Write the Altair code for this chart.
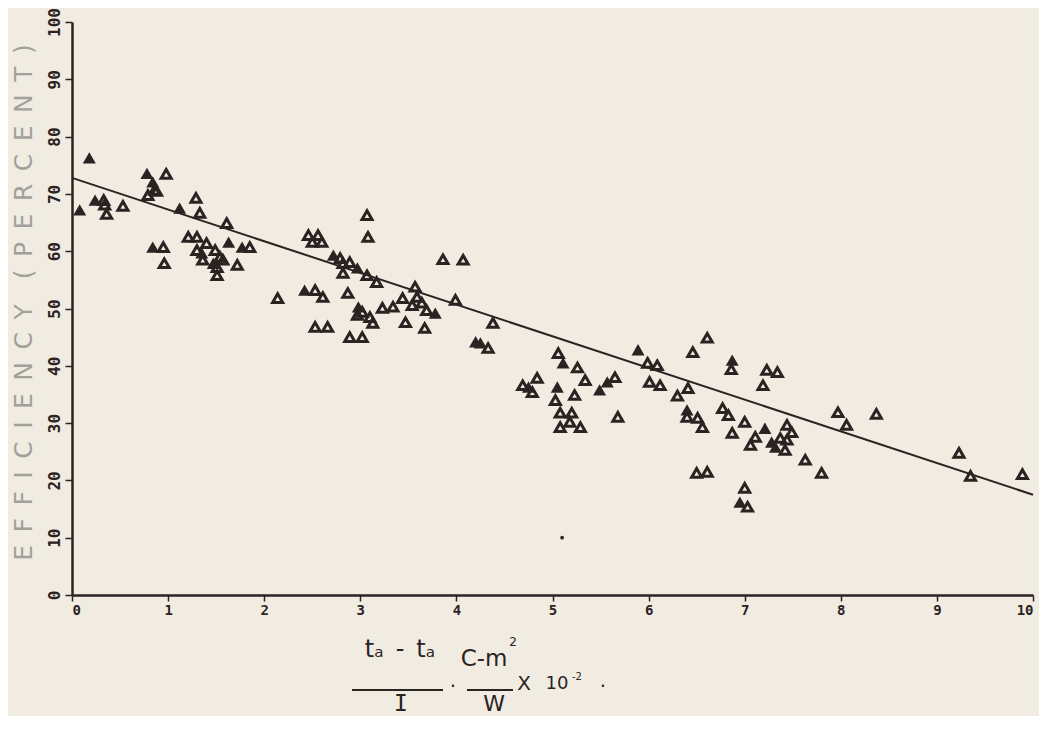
import altair as alt
import pandas as pd

# ---- data ----
open_x = [0.33, 0.34, 0.36, 0.53, 0.98, 0.86, 0.79, 0.88, 1.29, 1.33, 1.61, 1.85, 1.21, 1.30,
          0.95, 0.96, 1.40, 1.49, 1.36, 1.54, 1.57, 1.51, 1.51, 1.72, 1.30,
          3.07, 3.08, 2.46, 2.56, 2.50, 2.60, 2.79, 2.82, 2.89, 2.82, 3.07, 3.17, 2.14,
          2.53, 2.61, 2.87, 3.02, 3.10, 3.13, 2.97, 2.53, 2.66, 2.89, 3.02, 3.23, 3.34,
          3.44, 3.57, 3.59, 3.64, 3.54, 3.69, 3.47, 3.67, 3.86, 4.07, 3.99, 4.38, 4.33,
          5.06, 5.26, 5.34, 5.65, 5.68, 5.99, 6.09, 6.01, 6.12, 6.30, 4.84, 4.79, 4.69,
          5.03, 5.23, 5.08, 5.20, 5.08, 5.18, 5.29, 6.61, 6.46, 6.86, 7.23, 7.34, 7.19,
          6.41, 6.40, 6.51, 6.56, 6.77, 6.83, 6.87, 7.00, 7.11, 7.06, 7.44, 7.49, 7.37,
          7.44, 7.42, 7.63, 7.80, 7.97, 8.06, 8.37, 6.50, 6.61, 7.00, 7.03, 9.23, 9.35, 9.89]
open_y = [68.9, 68.1, 66.5, 67.9, 73.5, 70.7, 69.8, 70.5, 69.3, 66.7, 64.9, 60.7, 62.5, 62.5,
          60.7, 57.9, 61.4, 60.2, 58.5, 59.0, 58.5, 57.2, 55.8, 57.6, 60.2,
          66.3, 62.5, 62.8, 62.8, 61.6, 61.6, 58.8, 57.9, 58.1, 56.2, 55.8, 54.6, 51.8,
          53.2, 52.0, 52.7, 49.4, 48.5, 47.5, 48.9, 46.8, 46.8, 45.0, 45.0, 50.1, 50.3,
          51.8, 53.8, 52.0, 51.0, 50.6, 49.7, 47.6, 46.6, 58.6, 58.5, 51.5, 47.5, 43.1,
          42.2, 39.7, 37.5, 38.0, 31.1, 40.5, 40.1, 37.2, 36.6, 34.8, 37.9, 35.4, 36.6,
          34.0, 34.9, 31.8, 31.8, 29.3, 30.2, 29.3, 44.9, 42.4, 39.4, 39.3, 38.9, 36.6,
          36.1, 31.1, 30.9, 29.3, 32.6, 31.4, 28.3, 30.2, 27.6, 26.2, 29.7, 28.4, 27.4,
          27.1, 25.3, 23.6, 21.3, 31.9, 29.7, 31.6, 21.3, 21.5, 18.7, 15.4, 24.8, 20.8, 21.1]

filled_x = [0.18, 0.08, 0.24, 0.78, 0.84, 1.12, 1.63, 1.77, 0.84, 1.35, 1.47,
            2.72, 2.97, 2.42, 2.98, 3.78, 4.25, 4.20, 5.11, 5.57, 5.49, 5.89,
            4.75, 5.05, 6.87, 6.40, 7.21, 7.28, 7.32, 6.95]
filled_y = [76.3, 67.2, 68.9, 73.6, 72.1, 67.5, 61.6, 60.7, 60.7, 59.7, 57.9,
            59.3, 57.1, 53.2, 50.3, 49.2, 44.0, 44.2, 40.5, 37.2, 35.8, 42.8,
            36.3, 36.3, 41.0, 32.3, 29.1, 26.7, 25.8, 16.2]

dot_x = [5.10]
dot_y = [10.0]

fit_x = [0, 10]
fit_y = [72.8, 17.5]

x_ticks = list(range(0, 11))
y_ticks = list(range(0, 101, 10))

INK = "#2b2222"
BG = "#f0ece2"
SP = "\u2002"

y_title = SP.join(list("EFFICIENCY")) + SP + SP + SP.join(list("(PERCENT)"))

df_open = pd.DataFrame({"x": open_x, "y": open_y})
df_filled = pd.DataFrame({"x": filled_x, "y": filled_y})
df_dot = pd.DataFrame({"x": dot_x, "y": dot_y})
df_fit = pd.DataFrame({"x": fit_x, "y": fit_y})

xs = alt.Scale(domain=[0, 10], nice=False)
ys = alt.Scale(domain=[0, 100], nice=False)

x_axis = alt.Axis(values=x_ticks, format="d", title=None, grid=False, tickSize=6, tickWidth=1.5,
                  tickColor=INK, domainColor=INK, domainWidth=2.5,
                  labelFont="DejaVu Sans Mono", labelFontSize=14, labelFontWeight="bold",
                  labelColor=INK, labelPadding=2)
y_axis = alt.Axis(values=y_ticks, format="d", grid=False, tickSize=7, tickWidth=1.5,
                  tickColor=INK, domainColor=INK, domainWidth=2.5,
                  labelFont="DejaVu Sans Mono", labelFontSize=16, labelFontWeight="bold",
                  labelColor=INK, labelPadding=3, labelAngle=270,
                  labelAlign="center", labelBaseline="bottom",
                  title=y_title,
                  titleAngle=270, titleX=-49, titleY=280, titleAlign="center",
                  titleBaseline="middle", titleColor="#a3a09a", titleFont="DejaVu Sans",
                  titleFontSize=25, titleFontWeight="normal")

base_x = alt.X("x:Q", scale=xs, axis=x_axis)
base_y = alt.Y("y:Q", scale=ys, axis=y_axis)

fit = alt.Chart(df_fit).mark_line(color=INK, strokeWidth=2).encode(x=base_x, y=base_y)

opens = alt.Chart(df_open).mark_point(shape="triangle-up", filled=False, size=100,
                                      strokeWidth=3, color=INK, opacity=1).encode(
    x=alt.X("x:Q", scale=xs), y=alt.Y("y:Q", scale=ys))

fills = alt.Chart(df_filled).mark_point(shape="triangle-up", filled=True, size=170,
                                        color=INK, opacity=1).encode(
    x=alt.X("x:Q", scale=xs), y=alt.Y("y:Q", scale=ys))

dot = alt.Chart(df_dot).mark_point(shape="circle", filled=True, size=14,
                                   color=INK, opacity=1).encode(
    x=alt.X("x:Q", scale=xs), y=alt.Y("y:Q", scale=ys))

# ---- x-axis formula label (layout in pixels relative to plot) ----
def txt(s, x, y, size, font="DejaVu Sans"):
    return alt.Chart(pd.DataFrame({"t": [s]})).mark_text(
        font=font, fontSize=size, color=INK, align="center", baseline="middle"
    ).encode(text="t:N", x=alt.value(x), y=alt.value(y))

def bar(x1, x2, y):
    return alt.Chart(pd.DataFrame({"a": [0]})).mark_rule(color=INK, strokeWidth=2).encode(
        x=alt.value(x1), x2=alt.value(x2), y=alt.value(y))

formula = [
    txt("t\u2090" + SP + "-" + SP + "t\u2090", 328, 628, 24),
    bar(280, 371, 668),
    txt("I", 329, 682, 23, "DejaVu Sans Mono"),
    txt("·", 381, 665, 20),
    txt("C-m", 412, 637, 23),
    txt("2", 441, 620, 12),
    bar(395, 441, 668),
    txt("W", 422, 682, 22),
    txt("X", 452, 662, 20),
    txt("10", 485, 662, 18),
    txt("-2", 505, 655, 10),
    txt("·", 531, 665, 20),
]

chart = alt.layer(fit, opens, fills, dot, *formula).properties(
    width=961, height=573,
    autosize=alt.AutoSizeParams(type="none"),
    padding={"left": 64, "top": 14, "right": 6, "bottom": 121},
    background=BG,
).configure_view(stroke=None)

chart.save("out.html", embed_options={"renderer": "svg", "actions": False})
